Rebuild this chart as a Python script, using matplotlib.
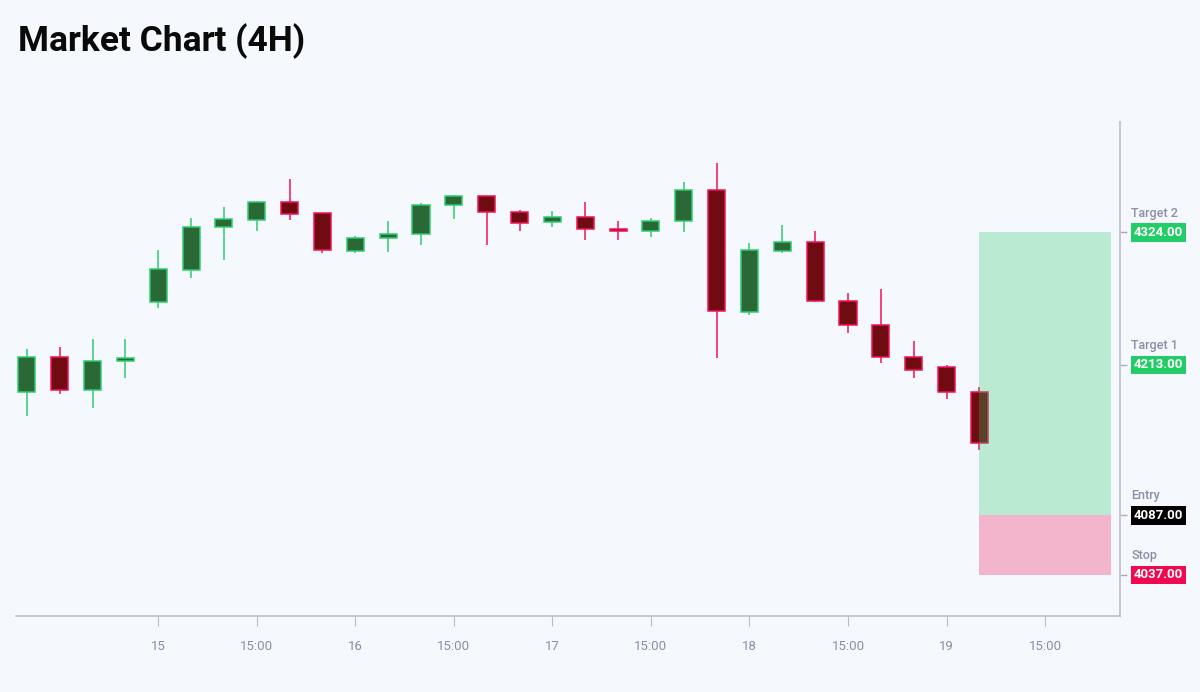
import matplotlib
matplotlib.use("Agg")
import matplotlib.pyplot as plt
from matplotlib.patches import Rectangle

plt.rcParams['font.family'] = ['Roboto', 'DejaVu Sans']

# 4H candles
opens = [4190, 4220, 4192, 4216, 4266, 4292.5, 4328.5, 4334.5, 4349.5, 4340,
         4308.5, 4319, 4323, 4347, 4354.5, 4341, 4333, 4337, 4327, 4325,
         4334, 4359.5, 4257, 4308.5, 4316, 4267, 4246.5, 4219.5, 4211.5, 4190.5]
highs = [4226, 4228, 4235, 4235, 4309, 4336, 4345.5, 4350, 4369, 4340,
         4321, 4333.5, 4348.5, 4355.5, 4354.5, 4343, 4342, 4349.5, 4334, 4336,
         4366.5, 4382, 4315, 4330, 4325, 4273.5, 4277, 4233, 4213, 4194.5]
lows = [4170, 4188.5, 4177, 4202, 4261, 4285.5, 4301, 4325, 4334.5, 4306.5,
        4306.5, 4308, 4313.5, 4335, 4313.5, 4325.5, 4328.5, 4317.5, 4317.5, 4320.5,
        4324.5, 4219, 4254.5, 4307, 4265.5, 4240, 4214.5, 4202, 4184.5, 4142]
closes = [4220, 4192, 4216, 4219, 4293, 4328.5, 4335, 4349.5, 4339.5, 4309,
          4319.5, 4323, 4347, 4354.5, 4341, 4332, 4337, 4327, 4325, 4334,
          4359.5, 4258, 4309, 4316, 4267, 4246.5, 4219.5, 4209, 4190, 4148]

tick_pos = [4, 7, 10, 13, 16, 19, 22, 25, 28, 31]
tick_labels = ['15', '15:00', '16', '15:00', '17', '15:00', '18', '15:00', '19', '15:00']

level_names = ['Target 2', 'Target 1', 'Entry', 'Stop']
level_values = [4324, 4213, 4087, 4037]
level_colors = ['#22cc66', '#22cc66', '#000000', '#f0094f']

# trade box spans from the last candle to 4 bars ahead
box_start = len(closes) - 1
box_end = box_start + 4

BG = '#f5f8fc'
UP_FILL, UP_EDGE = '#2a6836', '#2ecc71'
DN_FILL, DN_EDGE = '#700b12', '#f0145a'
GREY = '#8a8ea6'

fig = plt.figure(figsize=(12, 6.92), dpi=100, facecolor=BG)
ax = fig.add_axes([16 / 1200, 76 / 692, 1104 / 1200, 494 / 692])
ax.set_facecolor(BG)

w = 0.52
for i, (o, h, l, c) in enumerate(zip(opens, highs, lows, closes)):
    up = c >= o
    fill = UP_FILL if up else DN_FILL
    edge = UP_EDGE if up else DN_EDGE
    ax.plot([i, i], [l, h], color=edge, lw=1.1, zorder=2, solid_capstyle='butt')
    ax.add_patch(Rectangle((i - w / 2, min(o, c)), w, abs(c - o),
                           facecolor=fill, edgecolor=edge, lw=1.1, zorder=3))

# target / stop zones
entry, stop, target = level_values[2], level_values[3], level_values[0]
ax.add_patch(Rectangle((box_start, entry), box_end - box_start, target - entry,
                       facecolor=level_colors[0], alpha=0.28, lw=0, zorder=4))
ax.add_patch(Rectangle((box_start, stop), box_end - box_start, entry - stop,
                       facecolor=level_colors[3], alpha=0.28, lw=0, zorder=4))

ax.set_xlim(-0.33, 33.28)
ax.set_ylim(4002.6, 4416.6)

for s in ['top', 'left']:
    ax.spines[s].set_visible(False)
ax.spines['bottom'].set_color('#b8bcc8')
ax.spines['bottom'].set_linewidth(1.1)
ax.spines['right'].set_color('#c4c7d2')
ax.spines['right'].set_linewidth(1.4)

ax.set_xticks(tick_pos)
ax.set_xticklabels(tick_labels)
ax.tick_params(axis='x', length=7, width=0.8, color='#b8bcc8', pad=10,
               labelsize=9.5, labelcolor=GREY)

ax.yaxis.tick_right()
ax.set_yticks(level_values)
ax.set_yticklabels([])
ax.tick_params(axis='y', length=5, width=1.0, color='#a8acbc')

for name, val, col in zip(level_names, level_values, level_colors):
    ax.annotate(f'{val:.2f}', xy=(1, val), xycoords=('axes fraction', 'data'),
                xytext=(10, 0), textcoords='offset points', ha='left', va='center',
                fontsize=9.5, color='white', fontweight='bold',
                bbox=dict(boxstyle='square,pad=0.22', facecolor=col, edgecolor='none'))
    ax.annotate(name, xy=(1, val), xycoords=('axes fraction', 'data'),
                xytext=(8, 14), textcoords='offset points', ha='left', va='center',
                fontsize=9, color=GREY, fontweight='medium')

fig.text(18 / 1200, 1 - 51 / 692, 'Market Chart (4H)', fontsize=25.5,
         fontweight='bold', color='#0a0a0a', va='baseline', ha='left')

fig.savefig('out.png', dpi=100, facecolor=BG)
